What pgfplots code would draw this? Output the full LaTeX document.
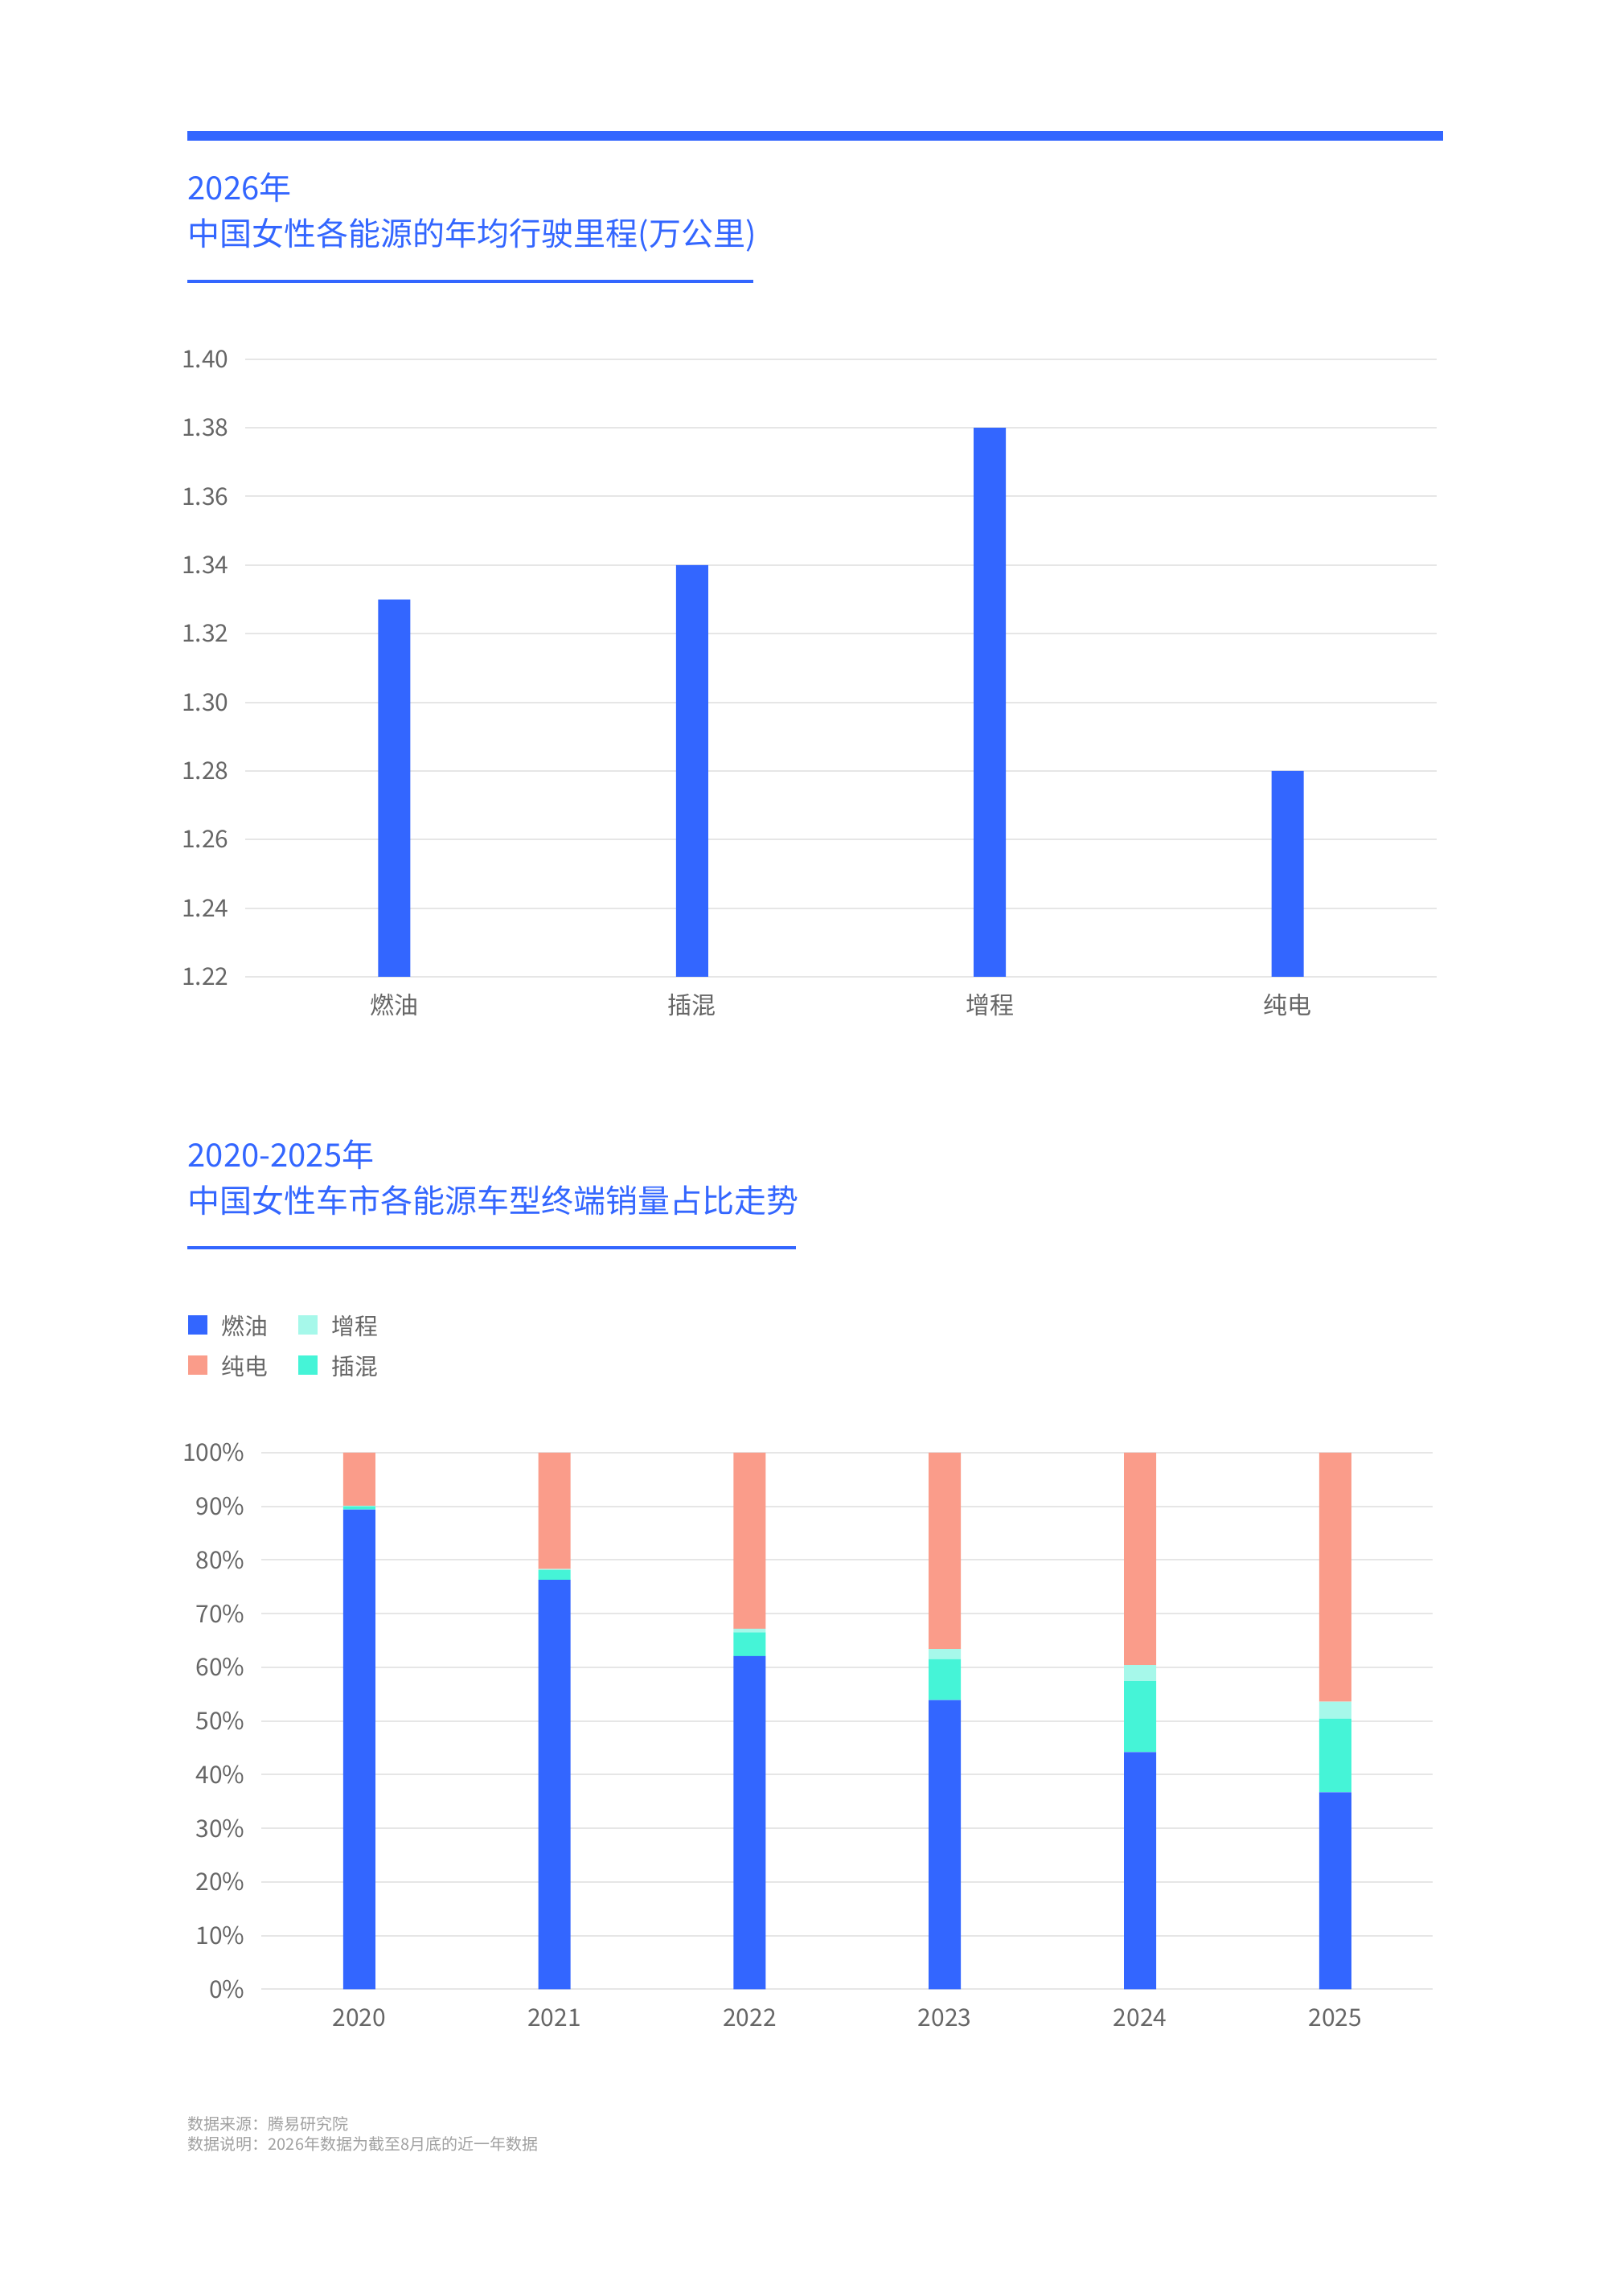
\documentclass[border=0pt]{standalone}
\usepackage{fontspec}
\setmainfont{Noto Sans CJK SC}
\usepackage{pgfplots}
\pgfplotsset{compat=1.18}
\definecolor{cblue}{HTML}{3366FF}
\definecolor{csalmon}{HTML}{FA9C8A}
\definecolor{cteal}{HTML}{45F4D7}
\definecolor{cmint}{HTML}{A6F8EA}
\definecolor{cgrid}{HTML}{E6E6E6}
\definecolor{clabel}{HTML}{666666}
\definecolor{cfoot}{HTML}{A0A0A0}
\pgfplotsset{
  common/.style={
    scale only axis, anchor=south west,
    axis line style={draw=none}, major tick style={draw=none},
    ymajorgrids, grid style={color=cgrid, line width=0.5bp},
    tick label style={font=\fontsize{7.5bp}{9bp}\selectfont, text=clabel},
    /pgf/number format/assume math mode=true,
    xticklabel style={anchor=base, inner sep=0pt, yshift=-11.5bp},
    yticklabel style={anchor=east, inner sep=0pt, xshift=-5bp},
  }
}
\begin{document}
\begin{tikzpicture}
\path[use as bounding box] (0,0) rectangle (505bp,709bp);
% top bar
\fill[cblue] (58.25bp,665.25bp) rectangle (448.7bp,668.25bp);
% chart 1 title
\node[anchor=base west, inner sep=0pt, font=\fontsize{10bp}{12bp}\selectfont, text=cblue] at (58.25bp,646.75bp) {2026年};
\node[anchor=base west, inner sep=0pt, font=\fontsize{10bp}{12bp}\selectfont, text=cblue] at (58.25bp,632.5bp) {中国女性各能源的年均行驶里程(万公里)};
\fill[cblue] (58.25bp,621bp) rectangle (234.3bp,622bp);
% chart 2 title
\node[anchor=base west, inner sep=0pt, font=\fontsize{10bp}{12bp}\selectfont, text=cblue] at (58.25bp,346bp) {2020-2025年};
\node[anchor=base west, inner sep=0pt, font=\fontsize{10bp}{12bp}\selectfont, text=cblue] at (58.25bp,331.75bp) {中国女性车市各能源车型终端销量占比走势};
\fill[cblue] (58.25bp,320.5bp) rectangle (247.4bp,321.5bp);
% footer
\node[anchor=base west, inner sep=0pt, font=\fontsize{5bp}{6bp}\selectfont, text=cfoot] at (58.25bp,46.6bp) {数据来源：腾易研究院};
\node[anchor=base west, inner sep=0pt, font=\fontsize{5bp}{6bp}\selectfont, text=cfoot] at (58.25bp,40.3bp) {数据说明：2026年数据为截至8月底的近一年数据};

\begin{axis}[common,
  at={(76.3bp,405.25bp)}, width=370.4bp, height=192.05bp,
  xmin=-0.5, xmax=3.5, ymin=1.22, ymax=1.40,
  ytick={1.22,1.24,1.26,1.28,1.30,1.32,1.34,1.36,1.38,1.40},
  yticklabel style={/pgf/number format/.cd, fixed, fixed zerofill, precision=2},
  xtick={0,1,2,3}, xticklabels={燃油,插混,增程,纯电},
  xticklabel style={yshift=4bp},
  ybar, bar width=10bp]
\addplot[fill=cblue, draw=none, bar shift=0pt] coordinates {(0,1.33) (1,1.34) (2,1.38) (3,1.28)};
\end{axis}

\begin{axis}[common,
  at={(81.35bp,90.4bp)}, width=364.2bp, height=166.9bp,
  xmin=-0.5, xmax=5.5, ymin=0, ymax=100,
  ytick={0,10,20,30,40,50,60,70,80,90,100},
  yticklabel={\pgfmathprintnumber{\tick}\%},
  xtick={0,1,2,3,4,5}, xticklabels={2020,2021,2022,2023,2024,2025},
  ybar stacked, bar width=10bp,
  legend image code/.code={\fill[#1] (0bp,-2.5bp) rectangle (6bp,3.5bp);},
  legend cell align=left,
  legend style={at={(axis description cs:0,1)}, anchor=north west, xshift=-23.1bp, yshift=43.3bp,
    draw=none, fill=none, inner sep=0pt, legend columns=2, row sep=4.46bp,
    nodes={inner sep=0pt, text height=6.5bp, text depth=1.5bp, text=clabel, font=\fontsize{7.2bp}{9bp}\selectfont},
    /tikz/every odd column/.append style={column sep=4.4bp},
    /tikz/every even column/.append style={column sep=9.5bp}},
  ]
\addlegendimage{fill=cblue, draw=none}
\addlegendimage{fill=cmint, draw=none}
\addlegendimage{fill=csalmon, draw=none}
\addlegendimage{fill=cteal, draw=none}
\legend{燃油,增程,纯电,插混}
\addplot[fill=cblue, draw=none] coordinates {(0,89.4) (1,76.3) (2,62.1) (3,53.9) (4,44.2) (5,36.7)};
\addplot[fill=cteal, draw=none] coordinates {(0,0.6) (1,1.8) (2,4.4) (3,7.6) (4,13.2) (5,13.75)};
\addplot[fill=cmint, draw=none] coordinates {(0,0.1) (1,0.2) (2,0.7) (3,1.9) (4,3.0) (5,3.15)};
\addplot[fill=csalmon, draw=none] coordinates {(0,9.9) (1,21.7) (2,32.8) (3,36.6) (4,39.6) (5,46.4)};
\end{axis}
\end{tikzpicture}
\end{document}
